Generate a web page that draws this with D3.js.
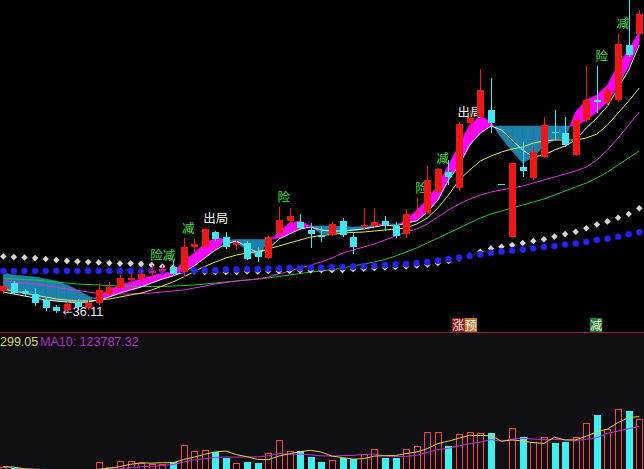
<!DOCTYPE html>
<html>
<head>
<meta charset="utf-8">
<script src="https://cdn.jsdelivr.net/npm/d3@7"></script>
<style>
  html, body { margin: 0; padding: 0; background: #000; overflow: hidden; }
  svg { display: block; }
</style>
</head>
<body>
<svg id="chart" width="644" height="469"></svg>
<script>
// ---- daily bars (price) ----
const open = [38.31,39.11,38.31,38.06,37.46,36.71,36.41,37.21,36.61,37.11,
  38.01,38.61,39.41,39.51,40.16,40.36,40.76,40.26,42.76,42.76,
  44.21,43.76,42.91,43.11,42.21,41.61,44.11,45.36,45.21,44.41,
  43.91,43.91,45.31,43.71,44.71,44.86,45.31,44.81,44.01,46.11,
  46.11,48.26,50.21,48.61,55.11,55.71,56.46,49.00,43.71,50.76,
  49.61,51.76,54.26,54.11,51.91,55.41,57.46,57.21,57.41,62.91,64.01];
const close = [38.81,38.16,38.01,37.11,36.61,36.31,37.01,36.71,37.11,38.41,
  38.71,39.61,39.61,40.01,40.31,40.56,40.01,42.71,43.01,44.56,
  43.51,42.76,43.11,41.56,41.71,43.71,45.41,45.81,44.61,44.01,
  43.76,45.06,43.91,42.71,44.91,45.21,44.91,43.81,46.06,46.21,
  49.41,50.51,49.71,55.06,55.66,58.41,55.11,49.00,51.11,50.36,
  52.21,54.91,54.11,52.91,55.41,57.46,57.26,58.46,63.06,61.91,66.01];
const high = [39.01,39.31,38.51,38.61,37.71,36.91,37.21,37.51,37.41,39.11,
  39.21,39.91,40.11,40.41,40.91,40.91,41.31,43.61,43.51,44.61,
  44.31,44.21,43.41,43.31,42.71,43.81,46.71,46.61,46.01,45.11,
  44.81,45.21,45.61,44.21,46.61,46.61,45.81,45.21,46.51,47.61,
  50.81,50.61,51.41,55.21,56.41,60.51,59.61,49.00,51.11,53.21,
  52.71,55.71,56.41,55.71,55.81,60.91,60.81,58.71,64.16,68.41,66.41];
const low = [38.01,38.01,37.81,36.81,36.31,36.11,36.21,36.41,36.41,36.91,
  37.91,38.41,39.11,39.31,39.61,40.01,39.81,39.71,42.21,42.71,
  43.31,42.51,42.41,41.41,41.21,41.51,43.71,44.91,44.41,42.61,
  43.21,43.81,43.71,42.01,44.51,44.71,44.31,43.61,43.61,45.71,
  46.01,48.11,48.91,48.31,53.61,55.51,54.11,49.00,43.71,49.71,
  49.41,51.61,53.41,52.71,51.81,55.21,56.11,56.81,57.21,61.71,63.81];
const volume = [27120,24720,14400,16800,19200,16800,19200,14400,16800,38400,
  27120,40800,40800,35280,33600,33600,39120,79200,64800,67200,
  63120,48720,36720,39120,35280,60720,91200,64800,64800,51120,
  39120,43200,47280,45600,57600,68880,48720,48720,68880,76800,
  109680,109680,76800,104880,111120,107280,108720,9600,119280,99120,
  87120,99120,84720,87120,99120,131297.95,151520,118200,165200,160375.25,141200];

// ---- band (fast / slow) ----
const bandFast = [38.41,38.21,38.01,37.81,37.51,37.31,37.21,37.21,37.31,37.81,
  38.41,38.91,39.21,39.51,39.81,40.11,40.21,41.21,42.11,43.01,
  43.61,43.51,43.11,42.41,41.81,43.21,44.21,45.11,45.31,44.81,
  44.01,44.01,44.21,44.31,44.51,44.71,45.21,44.81,45.41,46.41,
  47.41,48.91,50.91,52.91,54.91,55.81,55.21,53.61,52.31,51.11,
  51.71,52.81,53.41,53.61,56.21,57.41,57.91,58.91,60.91,62.41,64.21];
const bandSlow = [40.11,39.91,39.81,39.71,39.51,39.31,38.91,38.41,37.81,37.41,
  37.71,38.11,38.41,38.71,39.11,39.51,39.81,40.21,40.81,41.61,
  42.41,43.41,43.46,43.46,43.46,43.46,43.61,44.01,44.61,44.81,
  44.81,44.81,44.76,44.71,44.76,44.86,45.01,45.01,45.11,45.41,
  46.21,47.41,49.41,50.91,52.91,54.11,54.81,54.81,54.81,54.81,
  54.81,54.81,54.81,54.81,54.81,55.41,56.21,57.21,58.91,60.81,63.21];

// ---- moving-average lines ----
const lineWhite = [38.21,38.01,37.81,37.61,37.41,37.31,37.21,37.16,37.21,37.41,
  37.71,38.11,38.41,38.71,39.11,39.51,39.81,40.21,40.81,41.61,
  42.41,43.01,43.31,42.71,42.11,42.51,43.51,44.01,44.51,44.71,
  44.41,44.31,44.31,44.41,44.51,44.71,44.91,44.81,45.11,45.31,
  46.21,47.41,49.41,50.91,52.91,54.11,54.81,54.41,53.41,52.41,
  51.71,51.91,52.41,52.81,53.41,54.61,55.61,56.81,58.61,60.41,62.91];
const lineYellow = [38.51,38.31,38.11,37.91,37.71,37.51,37.41,37.31,37.31,37.41,
  37.51,37.71,37.91,38.11,38.41,38.81,39.21,39.71,40.26,40.76,
  41.21,41.61,41.91,42.11,42.26,42.51,42.81,43.11,43.41,43.71,
  43.86,43.96,44.11,44.16,44.21,44.31,44.41,44.51,44.61,45.01,
  45.61,46.61,47.91,49.41,50.41,51.31,51.81,52.21,52.51,52.71,
  53.11,53.31,53.41,53.41,53.41,53.61,54.01,54.91,56.11,57.31,58.61];
const linePurple = [39.31,39.21,39.11,39.01,38.86,38.71,38.51,38.36,38.21,38.06,
  38.01,38.01,38.01,38.06,38.11,38.21,38.31,38.41,38.61,38.81,
  39.01,39.16,39.31,39.41,39.51,39.71,40.01,40.31,40.61,40.91,
  41.21,41.61,42.11,42.41,42.71,43.01,43.41,43.81,44.21,44.51,
  45.01,45.71,46.41,47.01,47.51,47.91,48.21,48.41,48.61,48.81,
  49.11,49.41,49.71,50.01,50.31,50.71,51.41,52.41,53.61,54.91,56.21];
const lineGreen = [39.61,39.51,39.46,39.41,39.31,39.21,39.11,39.01,38.96,38.91,
  38.86,38.81,38.81,38.76,38.76,38.76,38.81,38.86,38.91,39.01,
  39.11,39.21,39.31,39.41,39.51,39.61,39.76,39.91,40.06,40.21,
  40.31,40.46,40.61,40.81,41.01,41.21,41.46,41.81,42.21,42.61,
  43.11,43.61,44.11,44.61,45.11,45.61,46.01,46.31,46.61,46.91,
  47.21,47.51,47.91,48.31,48.71,49.11,49.61,50.21,50.91,51.61,52.31];

// ---- dotted support lines ----
const dotsWhite = [41.76,41.71,41.66,41.61,41.51,41.41,41.31,41.26,41.21,41.16,
  41.11,41.06,41.06,41.01,40.91,40.76,40.61,40.41,40.26,40.21,
  40.21,40.21,40.21,40.26,40.26,40.31,40.31,40.31,40.36,40.36,
  40.41,40.41,40.41,40.51,40.56,40.61,40.66,40.71,40.76,40.86,
  40.96,41.11,41.31,41.56,41.86,42.24,42.56,42.74,42.91,43.11,
  43.31,43.48,43.76,44.01,44.24,44.58,44.96,45.26,45.64,46.01,46.58];
const dotsBlue = [40.31,40.31,40.31,40.31,40.31,40.31,40.31,40.31,40.31,40.31,
  40.31,40.31,40.31,40.31,40.31,40.31,40.31,40.31,40.36,40.41,
  40.41,40.46,40.46,40.51,40.51,40.56,40.56,40.61,40.61,40.66,
  40.66,40.71,40.71,40.76,40.81,40.86,40.91,40.96,41.01,41.11,
  41.21,41.36,41.51,41.66,41.81,41.96,42.11,42.26,42.36,42.46,
  42.56,42.71,42.81,42.96,43.06,43.21,43.41,43.54,43.74,43.98,44.18];

// ---- signal texts ----
const signalDay  = [14, 17, 19, 26, 39, 41, 43, 56, 58];
const signalText = ["险减", "减", "出局", "险", "险", "减", "出局", "险", "减"];
const alertDay  = [42, 55];
const alertText = ["涨预", "减"];

// ---------------------------------------------------------------
const svg = d3.select("#chart");
const W = 644, H = 469, n = close.length;
const days = d3.range(n);
const mainBottom = 333;

const x = d3.scaleLinear().domain([0, n - 1]).range([3.3, 639.3]);
const y = d3.scaleLinear().domain([34.11, 67.41]).range([mainBottom, 0]);
const yv = d3.scaleLinear().domain([0, 300000]).range([478, 353]);

const RED = "#ee1818", CYAN = "#3fe6f6";
const isUp = i => close[i] > open[i];

// backgrounds
svg.append("rect").attr("width", W).attr("height", mainBottom).attr("fill", "#000");
svg.append("rect").attr("y", mainBottom).attr("width", W).attr("height", H - mainBottom).attr("fill", "#0f0e12");

svg.append("defs").append("clipPath").attr("id", "mainClip")
  .append("rect").attr("width", W).attr("height", mainBottom - 1);
const main = svg.append("g").attr("clip-path", "url(#mainClip)");

// band between fast and slow lines: magenta when fast is above, teal otherwise
const MAG = "#ff00ff", TEAL = "#1d82ab";
const band = main.append("g");
for (let i = 0; i < n - 1; i++) {
  const x0 = x(i), x1 = x(i + 1);
  const a0 = y(bandFast[i]), a1 = y(bandFast[i + 1]);
  const b0 = y(bandSlow[i]), b1 = y(bandSlow[i + 1]);
  const d0 = bandFast[i] - bandSlow[i], d1 = bandFast[i + 1] - bandSlow[i + 1];
  const polys = [];
  if (d0 * d1 >= 0) {
    const up = (d0 + d1) > 0;
    polys.push({pts: [[x0, a0], [x1, a1], [x1, b1], [x0, b0]], up});
  } else {
    const t = d0 / (d0 - d1);
    const xc = x0 + t * (x1 - x0), yc = a0 + t * (a1 - a0);
    polys.push({pts: [[x0, a0], [xc, yc], [x0, b0]], up: d0 > 0});
    polys.push({pts: [[xc, yc], [x1, a1], [x1, b1]], up: d1 > 0});
  }
  polys.forEach(p => {
    band.append("polygon")
      .attr("points", p.pts.map(q => q.join(",")).join(" "))
      .attr("fill", p.up ? MAG : TEAL)
      .attr("stroke", p.up ? MAG : TEAL)
      .attr("stroke-width", 0.6);
  });
}

// moving-average lines
const lineGen = arr => d3.line().x((d, i) => x(i)).y(d => y(d))(arr);
[[lineGreen, "#2cc42c"], [linePurple, "#e030e0"], [lineYellow, "#e8e84a"], [lineWhite, "#f4f4f4"]]
  .forEach(([arr, col]) => {
    main.append("path").attr("d", lineGen(arr)).attr("fill", "none")
      .attr("stroke", col).attr("stroke-width", 1);
  });

// dotted lines: white diamonds and blue dots
main.append("g").selectAll("path").data(days).join("path")
  .attr("d", i => {
    const cx = x(i), cy = y(dotsWhite[i]);
    return `M${cx},${cy - 3.2}L${cx + 3.2},${cy}L${cx},${cy + 3.2}L${cx - 3.2},${cy}Z`;
  })
  .attr("fill", "#d6d6d6");
main.append("g").selectAll("circle").data(days).join("circle")
  .attr("cx", i => x(i)).attr("cy", i => y(dotsBlue[i])).attr("r", 3.2)
  .attr("fill", "#2626ee").attr("stroke", "#1010a8").attr("stroke-width", 0.6);

// signal texts (candles are drawn over them)
main.append("g").selectAll("text").data(signalDay).join("text")
  .attr("x", i => x(i) - 1.5)
  .attr("y", i => y(high[i]) - 5)
  .attr("font-family", "'Noto Sans CJK SC', sans-serif")
  .attr("font-size", 12.5)
  .attr("fill", (d, k) => signalText[k] === "出局" ? "#f4f4f4" : "#3ee03e")
  .text((d, k) => signalText[k]);

// candles
const candles = main.append("g").attr("shape-rendering", "crispEdges");
days.forEach(i => {
  const col = isUp(i) ? RED : CYAN;
  const cx = Math.round(x(i)) + 0.5;
  candles.append("line").attr("x1", cx).attr("x2", cx)
    .attr("y1", y(high[i])).attr("y2", y(low[i]))
    .attr("stroke", col).attr("stroke-width", 1);
  const top = y(Math.max(open[i], close[i])), bot = y(Math.min(open[i], close[i]));
  candles.append("rect")
    .attr("x", Math.round(x(i)) - 3).attr("width", 7)
    .attr("y", top).attr("height", Math.max(1, bot - top))
    .attr("fill", col);
});

// lowest-low marker
const minLow = d3.min(low), minIdx = low.indexOf(minLow);
const lowTag = main.append("text")
  .attr("x", x(minIdx) + 6).attr("y", y(minLow) + 3)
  .attr("font-size", 12.5).attr("fill", "#eeeaf4");
lowTag.append("tspan").attr("font-family", "'DejaVu Sans', sans-serif").attr("fill", "#d8a8e8").text("\u2190");
lowTag.append("tspan").attr("font-family", "'Liberation Sans', Arial, sans-serif").text(minLow.toFixed(2));

// bottom alert boxes
const alertBg = {"涨": "#8c1414", "预": "#c07830", "减": "#1e7a2e"};
alertDay.forEach((d, k) => {
  const chars = Array.from(alertText[k]);
  chars.forEach((ch, j) => {
    const left = x(d) + 3.5 + j * 12.5;
    svg.append("rect").attr("x", left).attr("y", 318).attr("width", 12.5).attr("height", 14)
      .attr("fill", alertBg[ch] || "#555");
    svg.append("text").attr("x", left + 0.3).attr("y", 329.5)
      .attr("font-family", "'Noto Sans CJK SC', sans-serif").attr("font-size", 12)
      .attr("fill", "#f2eee8").text(ch);
  });
});

// separator
svg.append("line").attr("x1", 0).attr("x2", W).attr("y1", 332.5).attr("y2", 332.5)
  .attr("stroke", "#9b1b2b").attr("stroke-width", 1);

// ---- volume panel ----
const movAvg = (arr, k) => arr.map((v, i) => d3.mean(arr.slice(Math.max(0, i - k + 1), i + 1)));
const ma5 = movAvg(volume, 5), ma10 = movAvg(volume, 10);

svg.append("defs").append("clipPath").attr("id", "volClip")
  .append("rect").attr("y", 352).attr("width", W).attr("height", H - 352);
const vol = svg.append("g").attr("clip-path", "url(#volClip)");
const vbars = vol.append("g").attr("shape-rendering", "crispEdges");
days.forEach(i => {
  const top = yv(volume[i]);
  if (isUp(i)) {
    vbars.append("rect").attr("x", Math.round(x(i)) - 2.5).attr("width", 6)
      .attr("y", Math.round(top) + 0.5).attr("height", Math.max(0, yv(0) - top))
      .attr("fill", "none").attr("stroke", "#ff4040").attr("stroke-width", 1);
  } else {
    vbars.append("rect").attr("x", Math.round(x(i)) - 3).attr("width", 7)
      .attr("y", top).attr("height", Math.max(0, yv(0) - top))
      .attr("fill", "#40eef0");
  }
});
const vline = arr => d3.line().x((d, i) => x(i)).y(d => yv(d))(arr);
vol.append("path").attr("d", vline(ma10)).attr("fill", "none").attr("stroke", "#c030d8").attr("stroke-width", 1);
vol.append("path").attr("d", vline(ma5)).attr("fill", "none").attr("stroke", "#e0d040").attr("stroke-width", 1);

// volume legend; the row is scrolled left, so only the tail of the MA5 figure is in view
const last = n - 1;
svg.append("text").attr("x", 0).attr("y", 345.5)
  .attr("font-family", "'Liberation Sans', Arial, sans-serif").attr("font-size", 12.5)
  .attr("fill", "#d8d86a").text(ma5[last].toFixed(2).slice(-6));
svg.append("text").attr("x", 40).attr("y", 345.5)
  .attr("font-family", "'Liberation Sans', Arial, sans-serif").attr("font-size", 12.5)
  .attr("fill", "#b828c8").text("MA10: " + ma10[last].toFixed(2));
</script>
</body>
</html>
